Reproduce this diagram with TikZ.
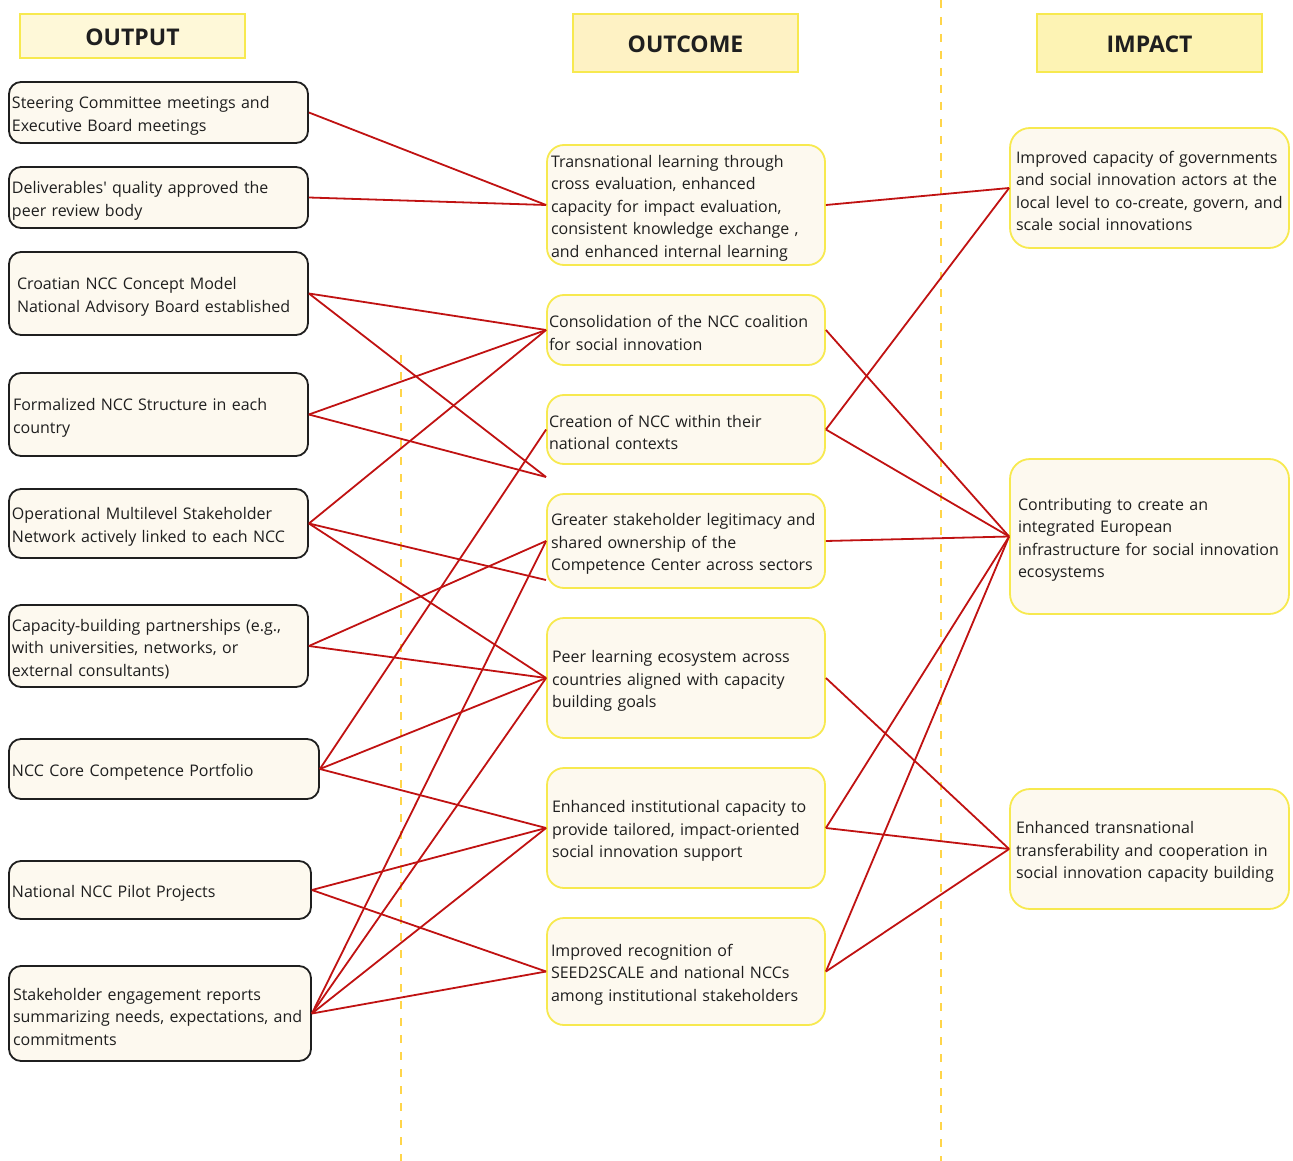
\documentclass[tikz,border=0pt]{standalone}
\usepackage{fontspec}
\setmainfont{Open Sans}
\definecolor{ink}{HTML}{1F1F1F}
\definecolor{cream}{HTML}{FDF9EF}
\definecolor{boxyellow}{HTML}{F7E94F}
\definecolor{guide}{HTML}{FFD54A}
\definecolor{linkred}{RGB}{192,18,18}
\definecolor{hdrA}{HTML}{FEF8D8}
\definecolor{hdrB}{HTML}{FEF2C4}
\definecolor{hdrC}{HTML}{FDF3B4}
\begin{document}
\begin{tikzpicture}[x=1pt,y=-1pt,
  base/.style={rectangle, fill=cream, inner ysep=0pt, align=left, text=ink,
    font=\fontsize{16}{22.5}\selectfont,
    execute at begin node={\rule{0pt}{18.5pt}}},
  outbox/.style={base, draw=ink, line width=1.8pt, rounded corners=12pt},
  midbox/.style={base, draw=boxyellow, line width=1.8pt, rounded corners=17pt},
  impbox/.style={base, draw=boxyellow, line width=1.8pt, rounded corners=20pt},
  hdr/.style={rectangle, draw=boxyellow, line width=1.8pt, minimum width=225pt,
    text=ink, font=\fontsize{23}{27}\selectfont\bfseries,
    text height=20pt, text depth=0pt},
  link/.style={draw=linkred, line width=1.8pt},
  guideline/.style={draw=guide, line width=2pt, dash pattern=on 8pt off 9pt}
]
\useasboundingbox (0,0) rectangle (1293,1161);

% column separators
\coordinate (gA) at (401,355);
\coordinate (gB) at (401,1161);
\coordinate (gC) at (941,0);
\coordinate (gD) at (941,1161);
\draw[guideline] (gA) -- (gB);
\draw[guideline] (gC) -- (gD);

% headers
\node[hdr, fill=hdrA, minimum height=44pt] (h1) at (132.5,36) {OUTPUT};
\node[hdr, fill=hdrB, minimum height=58pt] (h2) at (685.5,43) {OUTCOME};
\node[hdr, fill=hdrC, minimum height=58pt] (h3) at (1149.5,43) {IMPACT};

% outputs
\node[outbox, minimum width=299pt, minimum height=61pt, inner xsep=3pt, text width=293pt] (o1) at (158.5,112.5)
  {Steering Committee meetings and\\Executive Board meetings};
\node[outbox, minimum width=299pt, minimum height=61pt, inner xsep=3pt, text width=293pt] (o2) at (158.5,197.5)
  {Deliverables\textquotesingle{} quality approved the\\peer review body};
\node[outbox, minimum width=299pt, minimum height=83pt, inner xsep=8pt, text width=283pt] (o3) at (158.5,293.5)
  {Croatian NCC Concept Model\\National Advisory Board established};
\node[outbox, minimum width=299pt, minimum height=83pt, inner xsep=4pt, text width=291pt] (o4) at (158.5,414.5)
  {Formalized NCC Structure in each\\country};
\node[outbox, minimum width=299pt, minimum height=69pt, inner xsep=3pt, text width=293pt] (o5) at (158.5,523.5)
  {Operational Multilevel Stakeholder\\Network actively linked to each NCC};
\node[outbox, minimum width=299pt, minimum height=82pt, inner xsep=3pt, text width=293pt] (o6) at (158.5,646)
  {Capacity-building partnerships (e.g.,\\with universities, networks, or\\external consultants)};
\node[outbox, minimum width=310pt, minimum height=60pt, inner xsep=3pt, text width=304pt] (o7) at (164,769)
  {NCC Core Competence Portfolio};
\node[outbox, minimum width=302pt, minimum height=58pt, inner xsep=3pt, text width=296pt] (o8) at (160,890)
  {National NCC Pilot Projects};
\node[outbox, minimum width=302pt, minimum height=95pt, inner xsep=4pt, text width=294pt] (o9) at (160,1013.5)
  {Stakeholder engagement reports\\summarizing needs, expectations, and\\commitments};

% outcomes
\node[midbox, minimum width=278pt, minimum height=120pt, inner xsep=4pt, text width=270pt] (m1) at (686,205)
  {Transnational learning through\\cross evaluation, enhanced\\capacity for impact evaluation,\\consistent knowledge exchange ,\\and enhanced internal learning};
\node[midbox, minimum width=278pt, minimum height=70pt, inner xsep=2pt, text width=274pt] (m2) at (686,330)
  {Consolidation of the NCC coalition\\for social innovation};
\node[midbox, minimum width=278pt, minimum height=69pt, inner xsep=2pt, text width=274pt] (m3) at (686,429.5)
  {Creation of NCC within their\\national contexts};
\node[midbox, minimum width=278pt, minimum height=94pt, inner xsep=4pt, text width=270pt] (m4) at (686,541)
  {Greater stakeholder legitimacy and\\shared ownership of the\\Competence Center across sectors};
\node[midbox, minimum width=278pt, minimum height=120pt, inner xsep=5pt, text width=268pt] (m5) at (686,678)
  {Peer learning ecosystem across\\countries aligned with capacity\\building goals};
\node[midbox, minimum width=278pt, minimum height=120pt, inner xsep=5pt, text width=268pt] (m6) at (686,828)
  {Enhanced institutional capacity to\\provide tailored, impact-oriented\\social innovation support};
\node[midbox, minimum width=278pt, minimum height=107pt, inner xsep=4pt, text width=270pt] (m7) at (686,971.5)
  {Improved recognition of\\SEED2SCALE and national NCCs\\among institutional stakeholders};

% impacts
\node[impbox, minimum width=279pt, minimum height=120pt, inner xsep=6pt, text width=267pt] (i1) at (1149.5,188)
  {Improved capacity of governments\\and social innovation actors at the\\local level to co-create, govern, and\\scale social innovations};
\node[impbox, minimum width=279pt, minimum height=155pt, inner xsep=8pt, text width=263pt] (i2) at (1149.5,536.5)
  {Contributing to create an\\integrated European\\infrastructure for social innovation\\ecosystems};
\node[impbox, minimum width=279pt, minimum height=120pt, inner xsep=6pt, text width=267pt] (i3) at (1149.5,849)
  {Enhanced transnational\\transferability and cooperation in\\social innovation capacity building};

% loose ends between the outcome boxes
\coordinate (p1) at (546,477);
\coordinate (p2) at (546,580);

% output -> outcome
\draw[link] (o1.east) -- (m1.west);
\draw[link] (o2.east) -- (m1.west);
\draw[link] (o3.east) -- (m2.west);
\draw[link] (o3.east) -- (p1);
\draw[link] (o4.east) -- (m2.west);
\draw[link] (o4.east) -- (p1);
\draw[link] (o5.east) -- (m2.west);
\draw[link] (o5.east) -- (p2);
\draw[link] (o5.east) -- (m5.west);
\draw[link] (o6.east) -- (m4.west);
\draw[link] (o6.east) -- (m5.west);
\draw[link] (o7.east) -- (m3.west);
\draw[link] (o7.east) -- (m5.west);
\draw[link] (o7.east) -- (m6.west);
\draw[link] (o8.east) -- (m6.west);
\draw[link] (o8.east) -- (m7.west);
\draw[link] (o9.east) -- (m4.west);
\draw[link] (o9.east) -- (m5.west);
\draw[link] (o9.east) -- (m6.west);
\draw[link] (o9.east) -- (m7.west);

% outcome -> impact
\draw[link] (m1.east) -- (i1.west);
\draw[link] (m2.east) -- (i2.west);
\draw[link] (m3.east) -- (i1.west);
\draw[link] (m3.east) -- (i2.west);
\draw[link] (m4.east) -- (i2.west);
\draw[link] (m5.east) -- (i3.west);
\draw[link] (m6.east) -- (i2.west);
\draw[link] (m6.east) -- (i3.west);
\draw[link] (m7.east) -- (i2.west);
\draw[link] (m7.east) -- (i3.west);
\end{tikzpicture}
\end{document}
